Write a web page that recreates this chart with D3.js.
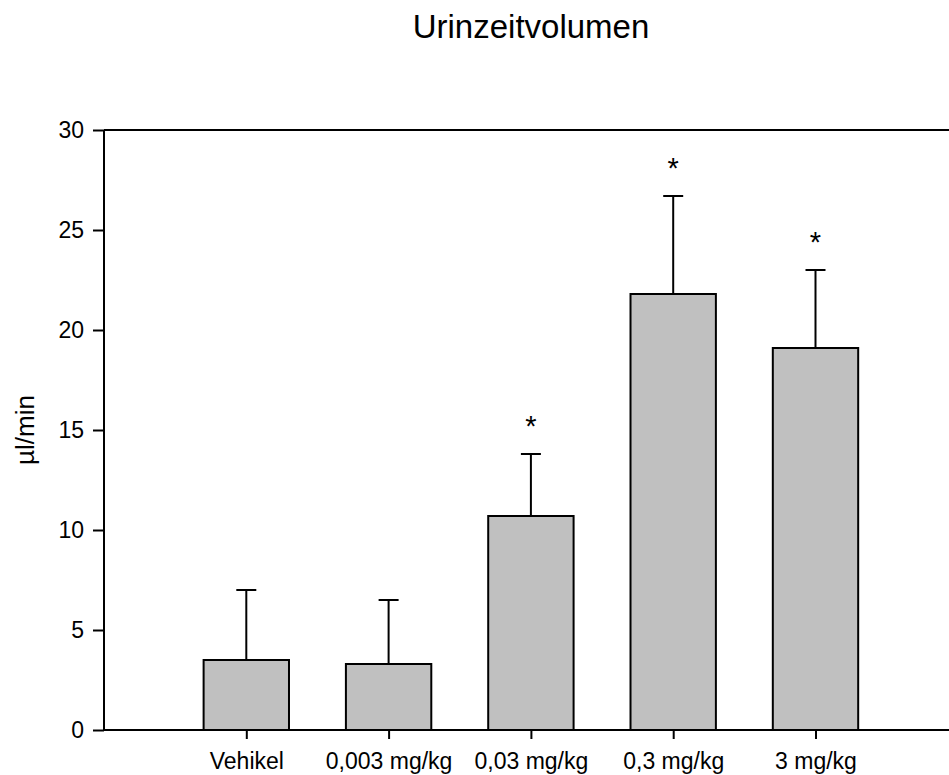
<!DOCTYPE html>
<html>
<head>
<meta charset="utf-8">
<script src="https://cdn.jsdelivr.net/npm/d3@7"></script>
<style>
  html, body { margin: 0; padding: 0; background: #fff; }
  svg { display: block; }
  text { font-family: "Liberation Sans", Arial, sans-serif; fill: #000; }
</style>
</head>
<body>
<script>
// Urine volume per time unit, mean + SD per dose group
const categories = ["Vehikel", "0,003 mg/kg", "0,03 mg/kg", "0,3 mg/kg", "3 mg/kg"];
const means      = [3.5, 3.3, 10.7, 21.8, 19.1];
const errors     = [3.5, 3.2, 3.1, 4.9, 3.9];
const significant = [false, false, true, true, true];
const yTicks     = [0, 5, 10, 15, 20, 25, 30];

const width = 949, height = 775;
const svg = d3.select("body").append("svg")
  .attr("width", width).attr("height", height);

// x positions: groups sit at 1..5 on a 0..6 axis
const x = d3.scaleLinear().domain([0, 6]).range([104, 104 + 6 * 142.3]);
const y = d3.scaleLinear().domain([0, 30]).range([730, 130]);
const barW = x(0.6) - x(0);

const rows = categories.map((c, i) => ({
  cat: c, pos: i + 1, mean: means[i], err: errors[i], sig: significant[i]
}));

// Frame: top border line
svg.append("line")
  .attr("x1", x(0)).attr("x2", x(6))
  .attr("y1", y(30)).attr("y2", y(30))
  .attr("stroke", "#000").attr("stroke-width", 2);

// Error bars (upper only), drawn beneath the bars
const eb = svg.append("g").attr("stroke", "#000").attr("stroke-width", 2);
eb.selectAll("line.stem").data(rows).join("line")
  .attr("class", "stem")
  .attr("x1", d => x(d.pos)).attr("x2", d => x(d.pos))
  .attr("y1", d => y(d.mean)).attr("y2", d => y(d.mean + d.err));
eb.selectAll("line.cap").data(rows).join("line")
  .attr("class", "cap")
  .attr("x1", d => x(d.pos) - 10).attr("x2", d => x(d.pos) + 10)
  .attr("y1", d => y(d.mean + d.err)).attr("y2", d => y(d.mean + d.err));

// Bars
svg.append("g").selectAll("rect").data(rows).join("rect")
  .attr("x", d => x(d.pos) - barW / 2)
  .attr("width", barW)
  .attr("y", d => y(d.mean))
  .attr("height", d => y(0) - y(d.mean))
  .attr("fill", "#c0c0c0")
  .attr("stroke", "#000")
  .attr("stroke-width", 2);

// Significance markers
svg.append("g").selectAll("text").data(rows.filter(d => d.sig)).join("text")
  .attr("x", d => x(d.pos))
  .attr("y", d => y(d.mean + d.err) - 18)
  .attr("text-anchor", "middle")
  .attr("font-size", 29)
  .text("*");

// Y axis
const yAxis = d3.axisLeft(y).tickValues(yTicks).tickSize(11).tickPadding(9)
  .tickFormat(d3.format("d"));
const gy = svg.append("g").attr("transform", `translate(${x(0)},0)`).call(yAxis);
gy.select(".domain").attr("stroke-width", 2).attr("d", `M0,${y(0)}V${y(30)}`);
gy.selectAll(".tick line").attr("stroke-width", 2);
gy.selectAll(".tick text").attr("font-size", 23)
  .style("font-family", "'Liberation Sans', Arial, sans-serif");

// X axis
const xAxis = d3.axisBottom(x).tickValues(rows.map(d => d.pos)).tickSize(9).tickPadding(14)
  .tickFormat((d, i) => categories[i]);
const gx = svg.append("g").attr("transform", `translate(0,${y(0)})`).call(xAxis);
gx.select(".domain").attr("stroke-width", 2).attr("d", `M${x(0)},0H${x(6)}`);
gx.selectAll(".tick line").attr("stroke-width", 2);
gx.selectAll(".tick text").attr("font-size", 23)
  .style("font-family", "'Liberation Sans', Arial, sans-serif");

// Y axis title
svg.append("text")
  .attr("transform", `translate(34,430) rotate(-90)`)
  .attr("text-anchor", "middle")
  .attr("font-size", 26)
  .text("µl/min");

// Chart title
svg.append("text")
  .attr("x", 531).attr("y", 38)
  .attr("text-anchor", "middle")
  .attr("font-size", 33)
  .text("Urinzeitvolumen");
</script>
</body>
</html>
